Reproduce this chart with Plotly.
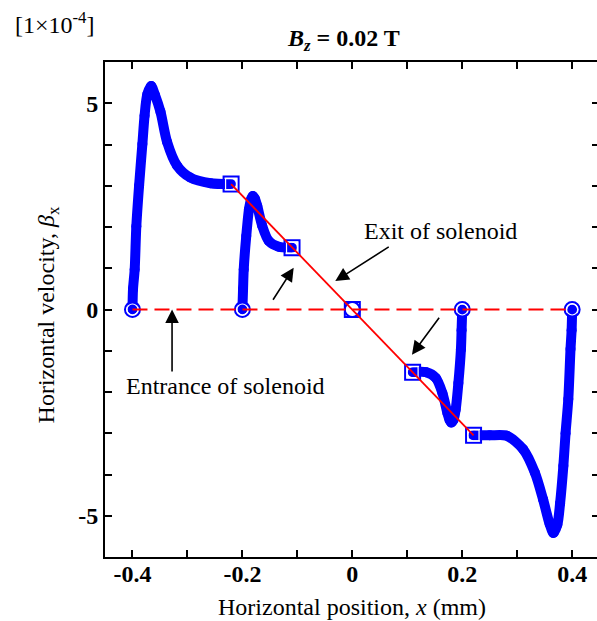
import plotly.graph_objects as go

# ---- data (units: x in mm, beta_x in 1e-4) ----
seg1_x = [-0.400, -0.399, -0.396, -0.393, -0.388, -0.382, -0.378, -0.373, -0.366, -0.359, -0.349, -0.337, -0.319, -0.295, -0.258, -0.221]
seg1_y = [0.00, 0.50, 0.97, 2.02, 3.00, 4.01, 4.70, 5.22, 5.42, 5.20, 4.79, 4.06, 3.49, 3.20, 3.06, 3.04]

seg2_x = [-0.200, -0.1988, -0.1976, -0.193, -0.188, -0.184, -0.181, -0.177, -0.173, -0.164, -0.152, -0.134, -0.110]
seg2_y = [0.00, 0.50, 0.97, 1.78, 2.43, 2.68, 2.75, 2.68, 2.51, 2.03, 1.66, 1.52, 1.50]

seg3_x = [0.200, 0.1988, 0.1976, 0.193, 0.188, 0.184, 0.180, 0.177, 0.173, 0.164, 0.152, 0.134, 0.110]
seg3_y = [0.00, -0.50, -0.97, -1.78, -2.43, -2.68, -2.74, -2.68, -2.51, -2.03, -1.66, -1.52, -1.52]

seg4_x = [0.400, 0.399, 0.397, 0.393, 0.388, 0.384, 0.378, 0.373, 0.366, 0.359, 0.347, 0.332, 0.311, 0.281, 0.250, 0.220]
seg4_y = [0.00, -0.50, -0.96, -2.17, -3.00, -3.79, -4.70, -5.22, -5.42, -5.20, -4.60, -3.95, -3.39, -3.06, -3.05, -3.05]

entrance_x = [-0.4, -0.2, 0.0, 0.2, 0.4]
entrance_y = [0.0, 0.0, 0.0, 0.0, 0.0]

exit_x = [-0.2206, -0.1097, 0.0, 0.1097, 0.2206]
exit_y = [3.04, 1.50, 0.0, -1.52, -3.05]

x_tickvals = [-0.4, -0.3, -0.2, -0.1, 0.0, 0.1, 0.2, 0.3, 0.4]
x_ticktext = ["-0.4", "", "-0.2", "", "0", "", "0.2", "", "0.4"]
y_tickvals = [-6, -5, -4, -3, -2, -1, 0, 1, 2, 3, 4, 5, 6]
y_ticktext = ["", "-5", "", "", "", "", "0", "", "", "", "", "5", ""]

FONT = "Liberation Serif"
BLUE = "#0000FF"
RED = "#FF0000"

fig = go.Figure()

for sx, sy in [(seg1_x, seg1_y), (seg2_x, seg2_y), (seg3_x, seg3_y), (seg4_x, seg4_y)]:
    fig.add_trace(go.Scatter(x=sx, y=sy, mode="lines+markers",
                             line=dict(color=BLUE, width=10, shape="spline", smoothing=0.8),
                             marker=dict(color=BLUE, size=10),
                             showlegend=False, hoverinfo="skip"))

# squares (exit)
fig.add_trace(go.Scatter(x=exit_x, y=exit_y, mode="markers",
                         marker=dict(symbol="square-open", size=15, color=BLUE, line=dict(width=2, color=BLUE)),
                         showlegend=False, hoverinfo="skip"))
fig.add_trace(go.Scatter(x=exit_x, y=exit_y, mode="markers",
                         marker=dict(symbol="square-open", size=11, color="white", line=dict(width=1.2, color="white")),
                         showlegend=False, hoverinfo="skip"))
# circles (entrance)
fig.add_trace(go.Scatter(x=entrance_x, y=entrance_y, mode="markers",
                         marker=dict(symbol="circle-open", size=15, color=BLUE, line=dict(width=2, color=BLUE)),
                         showlegend=False, hoverinfo="skip"))
fig.add_trace(go.Scatter(x=entrance_x, y=entrance_y, mode="markers",
                         marker=dict(symbol="circle-open", size=11, color="white", line=dict(width=1.2, color="white")),
                         showlegend=False, hoverinfo="skip"))

# red dashed entrance line, red solid exit line (on the overlaying axis that carries the right-side ticks)
fig.add_trace(go.Scatter(x=[entrance_x[0], entrance_x[-1]], y=[entrance_y[0], entrance_y[-1]], mode="lines",
                         line=dict(color=RED, width=2, dash="15px,7px"), yaxis="y2",
                         showlegend=False, hoverinfo="skip"))
fig.add_trace(go.Scatter(x=[exit_x[0], exit_x[-1]], y=[exit_y[0], exit_y[-1]], mode="lines",
                         line=dict(color=RED, width=1.8), yaxis="y2",
                         showlegend=False, hoverinfo="skip"))

tf = dict(family=FONT, size=24, color="black")
arrows = [
    (-0.031, 0.69, 0.069, 1.54),
    (-0.1067, 1.015, -0.146, 0.20),
    (0.1085, -1.095, 0.160, -0.163),
    (-0.328, 0.0, -0.328, -1.54),
]
ann = []
for x, y, ax, ay in arrows:
    ann.append(dict(x=x, y=y, ax=ax, ay=ay, xref="x", yref="y", axref="x", ayref="y",
                    text="", showarrow=True, arrowhead=2, arrowsize=1.7, arrowwidth=1.6,
                    arrowcolor="black", standoff=0))
ann += [
    dict(x=0.161, y=1.90, xref="x", yref="y", text="Exit of solenoid", showarrow=False, font=tf,
         xanchor="center", yanchor="middle"),
    dict(x=-0.231, y=-1.86, xref="x", yref="y", text="Entrance of solenoid", showarrow=False, font=tf,
         xanchor="center", yanchor="middle"),
    dict(x=0.484, y=1.0444, xref="paper", yref="paper", text="<b><i>B</i><sub><i>z</i></sub> = 0.02 T</b>",
         showarrow=False, font=tf, xanchor="center", yanchor="middle"),
    dict(x=-0.1016, y=1.078, xref="paper", yref="paper", text="[1×10<sup>-4</sup>]",
         showarrow=False, font=tf, xanchor="center", yanchor="middle"),
    dict(x=0.502, y=-0.101, xref="paper", yref="paper",
         text="Horizontal position, <i>x</i> (mm)", showarrow=False, font=tf,
         xanchor="center", yanchor="middle"),
    dict(x=-0.1159, y=0.49, xref="paper", yref="paper", textangle=-90,
         text="Horizontal velocity, <i>β</i><sub>x</sub>", showarrow=False, font=tf,
         xanchor="center", yanchor="middle"),
]

fig.update_layout(
    width=597, height=621,
    margin=dict(l=105, r=0, t=62, b=64),
    plot_bgcolor="white", paper_bgcolor="white",
    annotations=ann,
    xaxis=dict(range=[-0.45, 0.4452], tickvals=x_tickvals, ticktext=x_ticktext,
               ticks="inside", ticklen=7, tickwidth=1.6, tickcolor="black",
               showline=True, linewidth=1.8, linecolor="black", mirror="ticks",
               showgrid=False, zeroline=False,
               tickfont=dict(family=FONT, size=24, color="black", weight="bold"), ticklabelstandoff=-6),
    yaxis=dict(range=[-6, 6], tickvals=y_tickvals, ticktext=y_ticktext,
               ticks="inside", ticklen=7, tickwidth=1.6, tickcolor="black",
               showline=True, linewidth=1.8, linecolor="black",
               showgrid=False, zeroline=False,
               tickfont=dict(family=FONT, size=24, color="black", weight="bold"), ticklabelstandoff=0),
    yaxis2=dict(range=[-6, 6], overlaying="y", side="right", anchor="free", position=1.0,
                tickvals=y_tickvals, showticklabels=False,
                ticks="inside", ticklen=5, tickwidth=1.6, tickcolor="black",
                showline=False, showgrid=False, zeroline=False),
)

fig.write_html("out.html")
